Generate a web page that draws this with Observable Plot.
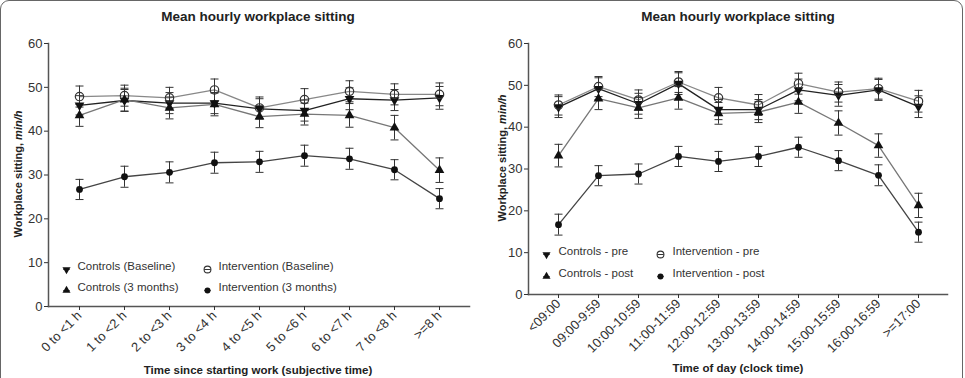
<!DOCTYPE html>
<html><head><meta charset="utf-8">
<script src="https://cdn.jsdelivr.net/npm/d3@7"></script>
<script src="https://cdn.jsdelivr.net/npm/@observablehq/plot@0.6"></script>
<style>
body{margin:0;background:#fff;overflow:hidden;font-family:"Liberation Sans",Arial,sans-serif;}
#wrap{position:relative;width:965px;height:378px;overflow:hidden;background:#fff;}
#border{position:absolute;left:0px;top:0px;width:963px;height:400px;border:1.5px solid #666;border-radius:9px;box-sizing:border-box;}
.panel{position:absolute;top:0;}
.title{position:absolute;font-weight:bold;font-size:13.5px;color:#222;transform:translateX(-50%);white-space:nowrap;}
.xlab{position:absolute;font-weight:bold;font-size:11.5px;color:#222;transform:translateX(-50%);white-space:nowrap;}
.ylab{position:absolute;font-weight:bold;font-size:11px;color:#222;white-space:nowrap;transform:translate(-50%,-50%) rotate(-90deg);}
</style>
</head><body>
<div id="wrap">
  <div id="border"></div>
  <div id="left" class="panel" style="left:0px"></div>
  <div id="right" class="panel" style="left:480px"></div>
  <div class="title" style="left:258px;top:9px">Mean hourly workplace sitting</div>
  <div class="title" style="left:738px;top:9px">Mean hourly workplace sitting</div>
  <div class="xlab" style="left:258px;top:364px">Time since starting work (subjective time)</div>
  <div class="xlab" style="left:738px;top:362px">Time of day (clock time)</div>
  <div class="ylab" style="left:18px;top:174px">Workplace sitting, <i>min/h</i></div>
  <div class="ylab" style="left:502px;top:158px">Workplace sitting, <i>min/h</i></div>
</div>
<script>
// ---------- Data: left panel (subjective time) ----------
const leftCats = ["0 to <1 h","1 to <2 h","2 to <3 h","3 to <4 h","4 to <5 h","5 to <6 h","6 to <7 h","7 to <8 h",">=8 h"];
const leftNames = ["Controls (Baseline)","Intervention (Baseline)","Controls (3 months)","Intervention (3 months)"];
const ctrlBase    = [45.9, 47.0, 46.4, 46.4, 45.1, 44.7, 47.4, 47.1, 47.6];
const ctrlBaseErr = [2.2, 2.5, 2.4, 2.4, 2.3, 2.4, 2.5, 2.4, 2.6];
const intBase     = [47.9, 48.1, 47.6, 49.4, 45.3, 47.2, 49.1, 48.4, 48.4];
const intBaseErr  = [2.4, 2.4, 2.4, 2.5, 2.5, 2.5, 2.4, 2.4, 2.6];
const ctrl3m      = [43.6, 47.2, 45.3, 46.1, 43.3, 43.9, 43.6, 40.8, 31.1];
const ctrl3mErr   = [2.5, 2.6, 2.5, 2.6, 2.5, 2.5, 2.7, 2.8, 2.8];
const int3m       = [26.7, 29.6, 30.6, 32.8, 33.0, 34.4, 33.7, 31.2, 24.6];
const int3mErr    = [2.3, 2.4, 2.4, 2.4, 2.4, 2.4, 2.4, 2.3, 2.3];

// ---------- Data: right panel (clock time) ----------
const rightCats = ["<09:00","09:00-9:59","10:00-10:59","11:00-11:59","12:00-12:59","13:00-13:59","14:00-14:59","15:00-15:59","16:00-16:59",">=17:00"];
const rightNames = ["Controls - pre","Intervention - pre","Controls - post","Intervention - post"];
const ctrlPre     = [44.8, 49.2, 45.6, 50.4, 44.2, 44.2, 48.9, 47.6, 48.9, 44.9];
const ctrlPreErr  = [2.5, 2.6, 2.5, 2.6, 2.4, 2.4, 2.6, 2.6, 2.5, 2.6];
const intPre      = [45.3, 49.7, 46.5, 50.8, 47.0, 45.3, 50.4, 48.4, 49.2, 46.2];
const intPreErr   = [2.4, 2.4, 2.4, 2.5, 2.5, 2.5, 2.5, 2.4, 2.5, 2.6];
const ctrlPost    = [33.2, 46.8, 44.6, 47.0, 43.3, 43.6, 46.0, 41.0, 35.6, 21.3];
const ctrlPostErr = [2.7, 2.6, 2.5, 2.7, 2.6, 2.5, 2.7, 2.9, 2.8, 2.9];
const intPost     = [16.7, 28.4, 28.8, 33.0, 31.8, 33.0, 35.2, 32.0, 28.5, 14.9];
const intPostErr  = [2.5, 2.4, 2.4, 2.4, 2.4, 2.4, 2.4, 2.4, 2.5, 2.4];

const yTicks = [0, 10, 20, 30, 40, 50, 60];

// ---------- styles (by series slot) ----------
const styles = [
  {symbol: "triangle", rotate: 180, fill: "#111", stroke: "none", r: 3.6, lr: 3.0, line: "#222"},
  {symbol: "circle", rotate: 0, fill: "none", stroke: "#333", r: 4.2, lr: 3.4, line: "#888"},
  {symbol: "triangle", rotate: 0, fill: "#111", stroke: "none", r: 3.6, lr: 3.0, line: "#777"},
  {symbol: "circle", rotate: 0, fill: "#111", stroke: "none", r: 3.4, lr: 3.0, line: "#444"}
];
const capSymbol = {draw(ctx, size) { const r = Math.sqrt(size / Math.PI); ctx.moveTo(-r, 0); ctx.lineTo(r, 0); }};

function makePanel({cats, names, values, errors, width, marginRight, marginBottom, padding, legend}) {
  const series = names.map((name, k) => cats.map((c, i) => ({name, cat: c, v: values[k][i], e: errors[k][i]})));
  const all = series.flat();
  const marks = [];
  series.forEach((rows, k) => marks.push(Plot.line(rows, {x: "cat", y: "v", stroke: styles[k].line, strokeWidth: 1.3})));
  marks.push(Plot.ruleX(all, {x: "cat", y1: d => d.v - d.e, y2: d => d.v + d.e, stroke: "#333", strokeWidth: 1}));
  marks.push(Plot.dot(all, {x: "cat", y: d => d.v + d.e, symbol: capSymbol, r: 4, stroke: "#333", strokeWidth: 1, fill: "none"}));
  marks.push(Plot.dot(all, {x: "cat", y: d => d.v - d.e, symbol: capSymbol, r: 4, stroke: "#333", strokeWidth: 1, fill: "none"}));
  series.forEach((rows, k) => {
    const s = styles[k];
    marks.push(Plot.dot(rows, {x: "cat", y: "v", symbol: s.symbol, rotate: s.rotate, r: s.r, fill: s.fill, stroke: s.stroke, strokeWidth: 1.2}));
  });
  // legend
  names.forEach((name, k) => {
    const s = styles[k];
    const dx = legend.cols[k % 2], dy = legend.rows[Math.floor(k / 2)];
    marks.push(Plot.dot([name], {frameAnchor: "bottom-left", dx, dy, symbol: capSymbol, r: 3.2, stroke: "#333", strokeWidth: 1}));
    marks.push(Plot.dot([name], {frameAnchor: "bottom-left", dx, dy, symbol: s.symbol, rotate: s.rotate, r: s.lr, fill: s.fill, stroke: s.stroke, strokeWidth: 1.1}));
    marks.push(Plot.text([name], {frameAnchor: "bottom-left", dx: dx + legend.textGap, dy, text: d => d, textAnchor: "start", fontSize: 11.5, fill: "#333"}));
  });
  marks.push(Plot.frame({anchor: "left", stroke: "#555", strokeWidth: 1.5}));
  marks.push(Plot.frame({anchor: "bottom", stroke: "#555", strokeWidth: 1.5}));
  marks.push(Plot.axisY({ticks: yTicks, tickSize: 4, tickPadding: 2, fontSize: 13, color: "#333", label: null}));
  marks.push(Plot.axisX({tickSize: 4, tickPadding: 3, tickRotate: -45, fontSize: 13, color: "#333", label: null}));
  return Plot.plot({
    width, height: 378,
    marginLeft: 48, marginTop: 43, marginRight, marginBottom,
    style: {fontFamily: "'Liberation Sans', Arial, sans-serif", background: "transparent"},
    x: {type: "point", domain: cats, padding},
    y: {domain: [0, 60]},
    marks
  });
}

document.getElementById("left").append(makePanel({
  cats: leftCats, names: leftNames,
  values: [ctrlBase, intBase, ctrl3m, int3m],
  errors: [ctrlBaseErr, intBaseErr, ctrl3mErr, int3mErr],
  width: 480, marginRight: 11, marginBottom: 72, padding: 0.67,
  legend: {cols: [18, 159], rows: [-37, -16], textGap: 11}
}));
document.getElementById("right").append(makePanel({
  cats: rightCats, names: rightNames,
  values: [ctrlPre, intPre, ctrlPost, intPost],
  errors: [ctrlPreErr, intPreErr, ctrlPostErr, intPostErr],
  width: 485, marginRight: 18, marginBottom: 84, padding: 0.7,
  legend: {cols: [18, 132], rows: [-40, -18], textGap: 12}
}));
</script>
</body></html>
